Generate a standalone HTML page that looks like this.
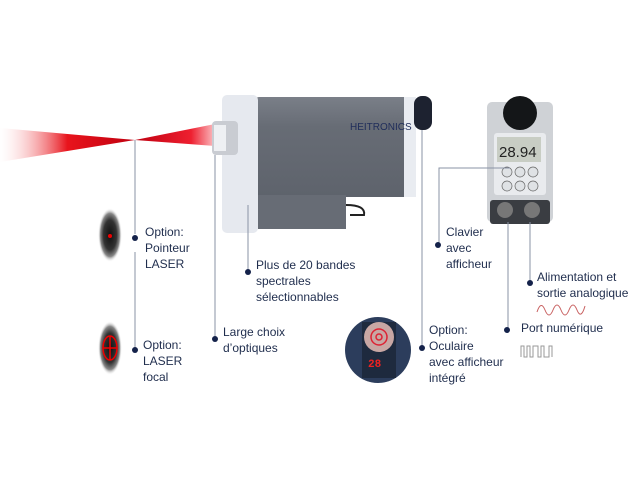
<!DOCTYPE html>
<html><head><style>
body{margin:0;width:640px;height:480px;background:#fff;position:relative;overflow:hidden;font-family:"Liberation Sans",sans-serif;}
.t{position:absolute;color:#1f2d4d;font-size:12px;line-height:16px;}
</style></head><body>
<svg width="640" height="480" style="position:absolute;left:0;top:0">
<defs>
<linearGradient id="b1" x1="0" x2="1"><stop offset="0" stop-color="#fff" stop-opacity="0.2"/><stop offset="0.5" stop-color="#e8141c"/><stop offset="1" stop-color="#c00010"/></linearGradient>
<linearGradient id="b2" x1="0" x2="1"><stop offset="0" stop-color="#c00010"/><stop offset="0.7" stop-color="#ee2030"/><stop offset="1" stop-color="#fbc0c4"/></linearGradient>
<linearGradient id="gb" x1="0" y1="0" x2="0" y2="1"><stop offset="0" stop-color="#7a7f88"/><stop offset="0.3" stop-color="#676c75"/><stop offset="1" stop-color="#5e636c"/></linearGradient>
<radialGradient id="el"><stop offset="0" stop-color="#111"/><stop offset="0.55" stop-color="#333"/><stop offset="0.8" stop-color="#888"/><stop offset="1" stop-color="#fff" stop-opacity="0"/></radialGradient>
</defs>
<polygon points="0,128 135,140 0,162" fill="url(#b1)"/>
<polygon points="135,140 215,124 215,146" fill="url(#b2)"/>
<!-- camera -->
<rect x="255" y="97" width="158" height="100" rx="4" fill="url(#gb)"/>
<rect x="258" y="195" width="88" height="34" fill="#676c75"/>
<path d="M346,205 q20,0 18,10 l-14,0" stroke="#222" stroke-width="2" fill="none"/>
<rect x="222" y="95" width="36" height="138" rx="5" fill="#e6e9ef"/>
<rect x="404" y="97" width="12" height="100" fill="#e9ecf1"/>
<rect x="414" y="96" width="18" height="34" rx="8" fill="#1d2230"/>
<rect x="212" y="121" width="26" height="34" rx="4" fill="#c9ccd2"/>
<rect x="214" y="125" width="12" height="26" fill="#eef0f3"/>
<text x="350" y="130" font-size="10" fill="#1f2d5a" font-family="Liberation Sans">HEITRONICS</text>
<!-- device -->
<rect x="487" y="102" width="66" height="120" rx="5" fill="#cfd2d6"/>
<rect x="490" y="200" width="60" height="24" rx="3" fill="#3a3d42"/>
<circle cx="505" cy="210" r="8" fill="#777"/><circle cx="532" cy="210" r="8" fill="#777"/>
<circle cx="520" cy="113" r="17" fill="#141618"/>
<rect x="494" y="133" width="52" height="62" rx="3" fill="#e9ebee"/>
<rect x="497" y="137" width="44" height="25" fill="#c8cdc4"/>
<text x="499" y="157" font-size="15" fill="#222" font-family="Liberation Sans">28.94</text>
<g fill="#dfe2e5" stroke="#666" stroke-width="0.7"><circle cx="507" cy="172" r="5"/><circle cx="520" cy="172" r="5"/><circle cx="533" cy="172" r="5"/><circle cx="507" cy="186" r="5"/><circle cx="520" cy="186" r="5"/><circle cx="533" cy="186" r="5"/></g>
<!-- ellipses -->
<ellipse cx="110" cy="235" rx="12" ry="27" fill="url(#el)"/>
<circle cx="110" cy="236" r="2" fill="#e00"/>
<ellipse cx="110" cy="348" rx="12" ry="27" fill="url(#el)"/>
<g stroke="#e00" stroke-width="1.5" fill="none"><ellipse cx="110" cy="348" rx="7" ry="12"/><line x1="110" y1="336" x2="110" y2="360"/><line x1="103" y1="348" x2="117" y2="348"/></g>
<!-- eyepiece icon -->
<circle cx="378" cy="350" r="33" fill="#2c3d5c"/>
<rect x="362" y="322" width="34" height="56" fill="#1e2a3e"/>
<circle cx="379" cy="337" r="15" fill="#c8a7a4"/>
<circle cx="379" cy="337" r="8" fill="none" stroke="#d23" stroke-width="1.5"/>
<circle cx="379" cy="337" r="3" fill="none" stroke="#d23" stroke-width="1.5"/>
<text x="368" y="367" font-size="11" font-weight="bold" fill="#e22" font-family="Liberation Mono">28</text>
<!-- lines -->
<g stroke="#8a93a6" stroke-width="1" fill="none">
<line x1="135" y1="140" x2="135" y2="234"/><line x1="135" y1="252" x2="135" y2="350"/>
<line x1="215" y1="155" x2="215" y2="339"/>
<line x1="248" y1="205" x2="248" y2="272"/>
<line x1="422" y1="130" x2="422" y2="348"/>
<polyline points="510,168 439,168 439,245"/>
<line x1="508" y1="222" x2="508" y2="330"/>
<line x1="530" y1="222" x2="530" y2="283"/>
</g>
<g fill="#14224a"><circle cx="135" cy="238" r="3"/><circle cx="135" cy="350" r="3"/><circle cx="215" cy="339" r="3"/><circle cx="248" cy="272" r="3"/><circle cx="422" cy="348" r="3"/><circle cx="438" cy="245" r="3"/><circle cx="507" cy="330" r="3"/><circle cx="530" cy="283" r="3"/></g>
<path d="M537,312 q4,-12 8,-2 t8,0 t8,0 t8,0 t8,0 t8,-4" stroke="#c86060" fill="none" stroke-width="1"/>
<path d="M521,357 v-11 h3 v11 h3 v-11 h3 v11 h3 v-11 h5 v11 h3 v-11 h3 v11 h5 v-11 h3 v11" stroke="#999" fill="none" stroke-width="1"/>
</svg>
<div class="t" style="left:145px;top:224px">Option:<br>Pointeur<br>LASER</div>
<div class="t" style="left:143px;top:337px">Option:<br>LASER<br>focal</div>
<div class="t" style="left:223px;top:324px">Large choix<br>d’optiques</div>
<div class="t" style="left:256px;top:257px">Plus de 20 bandes<br>spectrales<br>sélectionnables</div>
<div class="t" style="left:429px;top:322px">Option:<br>Oculaire<br>avec afficheur<br>intégré</div>
<div class="t" style="left:446px;top:224px">Clavier<br>avec<br>afficheur</div>
<div class="t" style="left:537px;top:269px">Alimentation et<br>sortie analogique</div>
<div class="t" style="left:521px;top:320px">Port numérique</div>
</body></html>
